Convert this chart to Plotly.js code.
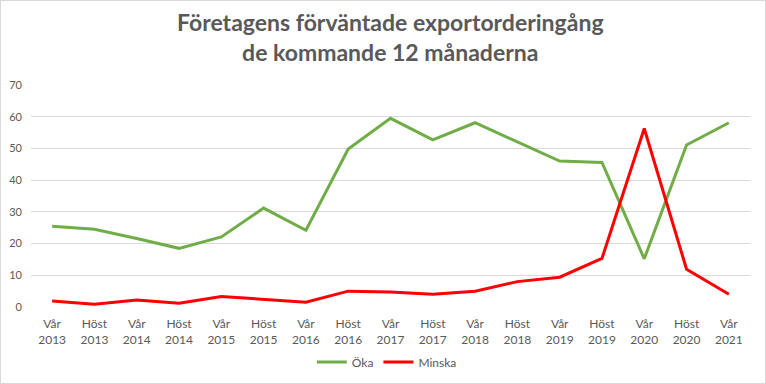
<!DOCTYPE html>
<html><head><meta charset="utf-8">
<script src="https://cdn.plot.ly/plotly-3.0.1.min.js"></script>
<style>html,body{margin:0;padding:0;background:#fff}#c{width:764px;height:382px;border:1px solid #d9d9d9}</style>
</head><body><div id="c"></div>
<script>
const categories = ["Vår<br>2013","Höst<br>2013","Vår<br>2014","Höst<br>2014","Vår<br>2015","Höst<br>2015","Vår<br>2016","Höst<br>2016","Vår<br>2017","Höst<br>2017","Vår<br>2018","Höst<br>2018","Vår<br>2019","Höst<br>2019","Vår<br>2020","Höst<br>2020","Vår<br>2021"];
const oka = [25.5,24.5,21.6,18.5,22.1,31.2,24.2,49.8,59.5,52.7,58.1,52.0,46.0,45.6,15.2,51.1,58.1];
const minska = [1.9,0.9,2.2,1.2,3.3,2.4,1.5,5.0,4.7,4.0,5.0,8.0,9.4,15.3,56.3,11.9,4.0];
const titleText = "<b>Företagens förväntade exportorderingång<br>de kommande 12 månaderna</b>";
const font = "Lato, 'Open Sans', sans-serif";
const traces = [
  {x: categories.map((_, i) => i), y: oka, name: "Öka", mode: "lines", line: {color: "#70ad47", width: 3}},
  {x: categories.map((_, i) => i), y: minska, name: "Minska", mode: "lines", line: {color: "#ff0000", width: 3}}
];
const layout = {
  width: 764, height: 382,
  margin: {l: 30, r: 15, t: 84, b: 76},
  paper_bgcolor: "#fff", plot_bgcolor: "#fff",
  font: {family: font, color: "#595959", size: 12},
  annotations: [{text: titleText, xref: "paper", yref: "paper", x: 0.5, xanchor: "center", y: 1.218, yanchor: "middle", showarrow: false, align: "center", font: {family: font, size: 23, color: "#595959"}}],
  xaxis: {range: [-0.5, 16.5], tickmode: "array", tickvals: categories.map((_, i) => i), ticktext: categories, showgrid: false, zeroline: false, showline: false, ticks: "", tickfont: {size: 12, color: "#595959"}, ticklabelstandoff: 8, automargin: false},
  yaxis: {range: [0, 70], dtick: 10, showgrid: true, gridcolor: "#d9d9d9", gridwidth: 1, zeroline: false, showline: false, ticks: "", tickfont: {size: 11, color: "#595959"}, ticklabelstandoff: 8, automargin: false},
  legend: {orientation: "h", x: 0.505, xanchor: "center", xref: "container", y: 0.055, yanchor: "middle", yref: "container", font: {size: 12, color: "#595959"}, itemwidth: 30},
  showlegend: true
};
Plotly.newPlot("c", traces, layout, {displayModeBar: false, staticPlot: true});
</script></body></html>
